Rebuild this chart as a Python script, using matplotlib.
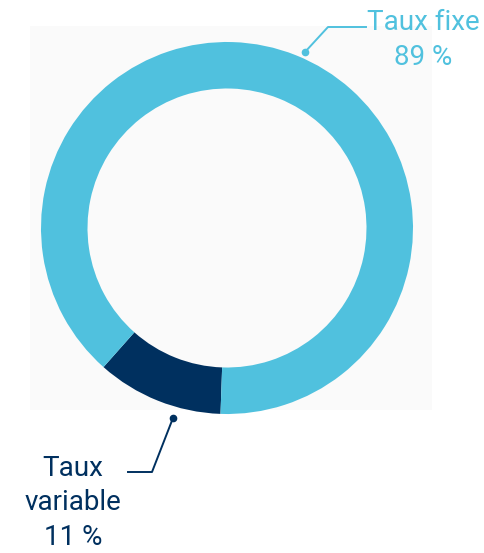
import matplotlib.pyplot as plt
from matplotlib.patches import Rectangle

plt.rcParams['font.family'] = ['Roboto', 'DejaVu Sans']

# data
labels = ["Taux variable", "Taux fixe"]
shares = [11, 89]
colors = ["#00305F", "#50C1DE"]

W, H = 485, 553
cx, cy, r = 227, 228, 186

fig = plt.figure(figsize=(W / 100, H / 100), dpi=100)
fig.patch.set_facecolor("white")

# faint card behind the donut
bg = fig.add_axes([0, 0, 1, 1])
bg.axis("off")
bg.add_patch(Rectangle((30 / W, 1 - 410 / H), 402 / W, 384 / H,
                       transform=fig.transFigure, facecolor="#FAFAFA",
                       edgecolor="none"))

ax = fig.add_axes([(cx - r) / W, 1 - (cy + r) / H, 2 * r / W, 2 * r / H])
ax.set_facecolor("none")
start = 268 - 360 * shares[0] / 100
ax.pie(shares, colors=colors, startangle=start, counterclock=True, radius=1,
       wedgeprops=dict(width=0.25, edgecolor="none"))
ax.set_xlim(-1, 1)
ax.set_ylim(-1, 1)
ax.set_aspect("equal")
ax.axis("off")


def px(x, y):
    return (x - cx) / r, (cy - y) / r


# leader lines
def leader(pts, color):
    xs, ys = zip(*[px(*p) for p in pts])
    ax.plot(xs, ys, color=color, lw=1.4, clip_on=False)
    ax.plot(xs[0], ys[0], "o", color=color, ms=4.5, clip_on=False)


leader([(305, 52), (328, 27), (366, 27)], colors[1])
leader([(173, 418), (152, 472), (128, 472)], colors[0])

tx, ty = px(423, 40)
ax.text(tx, ty, f"{labels[1]}\n{shares[1]} %", color=colors[1], fontsize=20,
        ha="center", va="center", linespacing=1.38, clip_on=False)
tx, ty = px(73, 503)
ax.text(tx, ty, f"Taux\nvariable\n{shares[0]} %", color=colors[0], fontsize=20,
        ha="center", va="center", linespacing=1.38, clip_on=False)

fig.savefig("out.png", dpi=100)
